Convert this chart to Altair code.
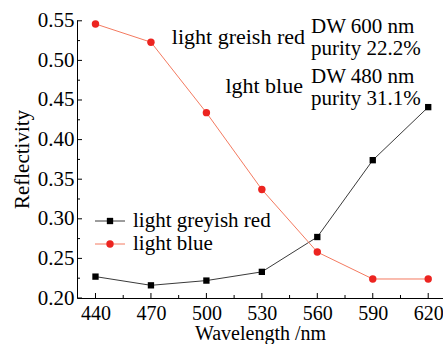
import altair as alt
import pandas as pd

# Reflectivity of the two sample colours across the measured wavelengths
wavelengths = [440, 470, 500, 530, 560, 590, 620]
greyish_red = [0.227, 0.216, 0.222, 0.233, 0.277, 0.374, 0.441]
light_blue = [0.546, 0.523, 0.434, 0.337, 0.258, 0.224, 0.224]
series_names = ["light greyish red", "light blue"]

x_major = [440, 470, 500, 530, 560, 590, 620]
x_minor = [455, 485, 515, 545, 575, 605]
y_major = [0.20, 0.25, 0.30, 0.35, 0.40, 0.45, 0.50, 0.55]
y_minor = [0.225, 0.275, 0.325, 0.375, 0.425, 0.475, 0.525]

note_red = ["light greish red", "DW 600 nm", "purity 22.2%"]
note_blue = ["lght blue", "DW 480 nm", "purity 31.1%"]

W, H = 366, 278
FONT = "Liberation Serif"
FS = 20
BLACK_LINE = "#3a3a3a"
RED_LINE = "#f47a60"
RED_DOT = "#ec2420"

df_red = pd.DataFrame({"wl": wavelengths, "r": greyish_red})
df_blue = pd.DataFrame({"wl": wavelengths, "r": light_blue})

xs = alt.Scale(domain=[430, 628], nice=False, zero=False)
ys = alt.Scale(domain=[0.2, 0.551], nice=False, zero=False)

x_axis = alt.Axis(values=x_major, format="d", ticks=False, grid=False,
                  labelFont=FONT, labelFontSize=FS, labelColor="black",
                  labelPadding=5, labelFlush=False, labelOverlap=False,
                  labelBound=False, domainColor="black",
                  title="Wavelength /nm", titleFont=FONT, titleFontSize=FS,
                  titleFontWeight="normal", titleColor="black", titlePadding=0)
y_axis = alt.Axis(values=y_major, format=".2f", ticks=False, grid=False,
                  labelFont=FONT, labelFontSize=FS + 1, labelColor="black",
                  labelPadding=3, labelFlush=False, labelOverlap=False,
                  labelBound=False, domainColor="black",
                  title="Reflectivity", titleFont=FONT, titleFontSize=FS + 1,
                  titleFontWeight="normal", titleColor="black", titlePadding=5)

# every layer shares the same scales and axis definitions
def X(field):
    return alt.X(field, scale=xs, axis=x_axis)

def Y(field):
    return alt.Y(field, scale=ys, axis=y_axis)

red_line = alt.Chart(df_red).mark_line(color=BLACK_LINE, strokeWidth=1).encode(
    x=X("wl:Q"), y=Y("r:Q"))
red_pts = alt.Chart(df_red).mark_square(size=40, color="black", opacity=1).encode(
    x=X("wl:Q"), y=Y("r:Q"))
blue_line = alt.Chart(df_blue).mark_line(color=RED_LINE, strokeWidth=1).encode(
    x=X("wl:Q"), y=Y("r:Q"))
blue_pts = alt.Chart(df_blue).mark_circle(size=55, color=RED_DOT, opacity=1).encode(
    x=X("wl:Q"), y=Y("r:Q"))

# inward-pointing axis ticks
def xticks(vals, length):
    return alt.Chart(pd.DataFrame({"wl": vals})).mark_rule(color="black", strokeWidth=1).encode(
        x=X("wl:Q"), y=alt.value(H), y2=alt.value(H - length))

def yticks(vals, length):
    return alt.Chart(pd.DataFrame({"r": vals})).mark_rule(color="black", strokeWidth=1).encode(
        y=Y("r:Q"), x=alt.value(0), x2=alt.value(length))

ticks = [xticks(x_major, 5), xticks(x_minor, 3), yticks(y_major, 5), yticks(y_minor, 3)]

# legend drawn in the lower left of the plot
one = pd.DataFrame({"k": [0]})
def legend_row(ypix, name, line_color, marker):
    seg = alt.Chart(one).mark_rule(color=line_color, strokeWidth=1).encode(
        x=alt.value(18), x2=alt.value(48), y=alt.value(ypix))
    if marker == "square":
        mk = alt.Chart(one).mark_square(size=40, color="black", opacity=1).encode(
            x=alt.value(33), y=alt.value(ypix))
    else:
        mk = alt.Chart(one).mark_circle(size=55, color=RED_DOT, opacity=1).encode(
            x=alt.value(33), y=alt.value(ypix))
    txt = alt.Chart(one).mark_text(font=FONT, fontSize=21, align="left",
                                   baseline="middle", color="black").encode(
        x=alt.value(56), y=alt.value(ypix), text=alt.value(name))
    return [seg, mk, txt]

legend = legend_row(201, series_names[0], BLACK_LINE, "square") + \
         legend_row(224, series_names[1], RED_LINE, "circle")

def label(text, xpix, ypix, align, size):
    return alt.Chart(one).mark_text(font=FONT, fontSize=size, align=align,
                                    baseline="middle", color="black").encode(
        x=alt.value(xpix), y=alt.value(ypix), text=alt.value(text))

notes = [
    label(note_red[0], 228, 17, "right", 22),
    label(note_red[1], 234, 7, "left", 21),
    label(note_red[2], 234, 29, "left", 21),
    label(note_blue[0], 226, 66, "right", 22),
    label(note_blue[1], 234, 57, "left", 21),
    label(note_blue[2], 234, 79, "left", 21),
]

chart = alt.layer(red_line, blue_line, red_pts, blue_pts, *ticks, *legend, *notes).properties(
    width=W, height=H,
    autosize=alt.AutoSizeParams(type="none"),
    padding={"left": 77, "top": 20, "right": 0, "bottom": 46},
    background="white",
).configure_view(stroke=None)

chart.save("out.html", embed_options={"renderer": "svg", "actions": False})
